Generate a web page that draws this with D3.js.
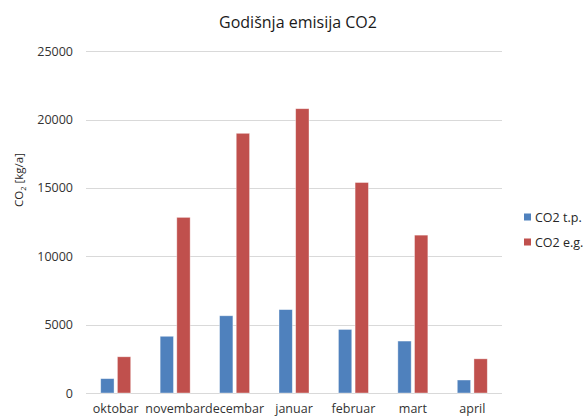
<!DOCTYPE html>
<html>
<head>
<meta charset="utf-8">
<script src="https://cdn.jsdelivr.net/npm/d3@7/dist/d3.min.js"></script>
<style>
  html, body { margin: 0; padding: 0; background: #fff; }
  svg { display: block; font-family: "Open Sans", "Noto Sans", sans-serif; }
</style>
</head>
<body>
<svg id="chart" width="584" height="417"></svg>
<script>
const categories = ["oktobar", "novembar", "decembar", "januar", "februar", "mart", "april"];
const seriesNames = ["CO2 t.p.", "CO2 e.g."];
const tpValues = [1050, 4150, 5650, 6100, 4650, 3800, 950];
const egValues = [2650, 12850, 19000, 20800, 15400, 11550, 2500];
const yTicks = [0, 5000, 10000, 15000, 20000, 25000];
const colors = ["#4F81BD", "#C0504D"];

const svg = d3.select("#chart");
const plot = { left: 86, right: 502, top: 51.3, bottom: 393 };

const x0 = d3.scaleBand().domain(categories).range([plot.left, plot.right]).padding(0);
const x1 = d3.scaleBand().domain(seriesNames).range([-15, 15]).paddingInner(0.2).paddingOuter(0);
const y = d3.scaleLinear().domain([0, 25000]).range([plot.bottom, plot.top]);

// gridlines
svg.append("g")
  .selectAll("line").data(yTicks).join("line")
  .attr("x1", plot.left).attr("x2", plot.right)
  .attr("y1", d => Math.round(y(d)) + 0.5).attr("y2", d => Math.round(y(d)) + 0.5)
  .attr("stroke", "#d9d9d9").attr("stroke-width", 1);

// y axis labels
const yAxis = d3.axisLeft(y).tickValues(yTicks).tickSize(0).tickPadding(0).tickFormat(d3.format("d"));
const ya = svg.append("g").attr("transform", `translate(${73},0)`).call(yAxis);
ya.select(".domain").remove();
ya.selectAll("text").attr("font-size", "12.5px").attr("fill", "#333333")
  .attr("font-family", "'Open Sans', sans-serif");

// bars
const data = categories.map((c, i) => ({ cat: c, vals: [tpValues[i], egValues[i]] }));
const groups = svg.append("g").selectAll("g").data(data).join("g")
  .attr("transform", d => `translate(${x0(d.cat) + x0.bandwidth() / 2},0)`);
groups.selectAll("rect").data(d => d.vals.map((v, k) => ({ s: seriesNames[k], v, k })))
  .join("rect")
  .attr("x", d => x1(d.s))
  .attr("width", x1.bandwidth())
  .attr("y", d => y(d.v))
  .attr("height", d => plot.bottom - y(d.v))
  .attr("fill", d => colors[d.k])
  .attr("stroke", "#ffffff").attr("stroke-opacity", 0.5).attr("stroke-width", 0.75);

// x axis labels
const xAxis = d3.axisBottom(x0).tickSize(0).tickPadding(0);
const xa = svg.append("g").attr("transform", `translate(0,${plot.bottom + 11})`).call(xAxis);
xa.select(".domain").remove();
xa.selectAll("text").attr("font-size", "12.5px").attr("fill", "#333333")
  .attr("font-family", "'Open Sans', sans-serif");

// title
svg.append("text").attr("x", 298).attr("y", 28).attr("text-anchor", "middle")
  .attr("font-size", "16px").attr("fill", "#1a1a1a").text("Godišnja emisija CO2");

// y axis title
const yt = svg.append("text").attr("transform", "translate(23,180) rotate(-90)")
  .attr("text-anchor", "middle").attr("font-size", "11.5px").attr("fill", "#262626");
yt.append("tspan").text("CO");
yt.append("tspan").attr("font-size", "7.5px").attr("dy", 3).text("2");
yt.append("tspan").attr("dy", -3).text(" [kg/a]");

// legend
const lg = svg.append("g").selectAll("g").data(seriesNames).join("g")
  .attr("transform", (d, i) => `translate(524,${218 + i * 25})`);
lg.append("rect").attr("x", 0).attr("y", -4.5).attr("width", 7).attr("height", 7)
  .attr("fill", (d, i) => colors[i]);
lg.append("text").attr("x", 11).attr("y", 0).attr("dy", "0.35em")
  .attr("font-size", "12.5px").attr("fill", "#262626").text(d => d);
</script>
</body>
</html>
